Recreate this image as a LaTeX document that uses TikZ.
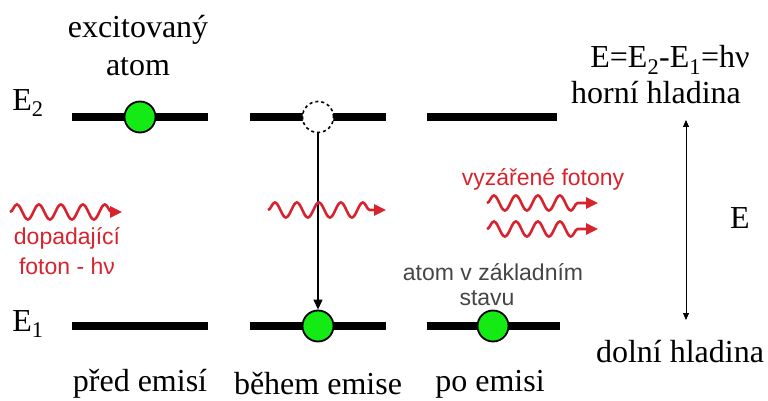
\documentclass[tikz,border=0pt]{standalone}
\usepackage{fontspec}
\setmainfont{Liberation Serif}
\setsansfont{Liberation Sans}
\usetikzlibrary{decorations.pathmorphing,arrows.meta}

\definecolor{atomgreen}{RGB}{20,235,20}
\definecolor{photonred}{RGB}{215,35,45}
\definecolor{labelgray}{RGB}{70,70,70}

\tikzset{
  level/.style={line width=8pt},
  atom/.style={circle, draw, line width=1.8pt, fill=atomgreen, minimum size=31pt, inner sep=0pt},
  ghost/.style={circle, draw, dashed, line width=1.6pt, fill=white, minimum size=31pt, inner sep=0pt},
  photon/.style={photonred, line width=2.6pt, decorate,
    decoration={snake, amplitude=7.5pt, segment length=22pt, post length=10pt},
    -{Triangle[length=12pt,width=11pt]}},
  serif/.style={font=\fontsize{32}{36}\selectfont},
  redtext/.style={photonred, font=\sffamily\fontsize{23}{26}\selectfont},
  graytext/.style={labelgray, font=\sffamily\fontsize{23}{26}\selectfont},
}

\begin{document}
\begin{tikzpicture}[x=1pt, y=-1pt]
  \useasboundingbox (0,0) rectangle (768,401);

  % energy levels
  \draw [level] (72,117) -- (208,117);
  \draw [level] (250,117) -- (386,117);
  \draw [level] (427,117) -- (557,117);
  \draw [level] (72,326) -- (208,326);
  \draw [level] (250,326) -- (386,326);
  \draw [level] (427,326) -- (560,326);

  % atoms
  \node (excited) [atom] at (140,117) {};
  \node (empty) [ghost] at (318,117) {};
  \node (fallen) [atom] at (318,326) {};
  \node (ground) [atom] at (493,326) {};
  \draw [-{Triangle[length=10pt,width=9pt]}, line width=1.2pt] (empty) -- (fallen);

  % photons
  \draw [photon] (10,212) -- (122,212);
  \draw [photon] (268,210) -- (386,210);
  \draw [photon] (487,203) -- (598,203);
  \draw [photon] (487,229) -- (598,229);

  % energy axis
  \coordinate (top) at (686,120);
  \coordinate (bottom) at (686,320);
  \draw [{Triangle[length=7pt,width=6pt]}-{Triangle[length=7pt,width=6pt]}, line width=0.8pt] (top) -- (bottom);

  % labels
  \node (exc1) [serif] at (138,30) {excitovaný};
  \node (exc2) [serif] at (138,67) {atom};
  \node (e2) [serif] at (28,103) {E\textsubscript{2}};
  \node (e1) [serif] at (28,324) {E\textsubscript{1}};
  \node (formula) [serif] at (670,60) {E=E\textsubscript{2}-E\textsubscript{1}=hν};
  \node (upper) [serif] at (656,93) {horní hladina};
  \node (energy) [serif] at (740,218) {E};
  \node (lower) [serif] at (680,352) {dolní hladina};
  \node (before) [serif] at (140,384) {před emisí};
  \node (during) [serif] at (318,384) {během emise};
  \node (after) [serif] at (490,384) {po emisi};
  \node (inc1) [redtext] at (67,238) {dopadající};
  \node (inc2) [redtext] at (67,266) {foton - hν};
  \node (emit) [redtext] at (543,179) {vyzářené fotony};
  \node (gs1) [graytext] at (493,272) {atom v základním};
  \node (gs2) [graytext] at (487,298) {stavu};
\end{tikzpicture}
\end{document}
